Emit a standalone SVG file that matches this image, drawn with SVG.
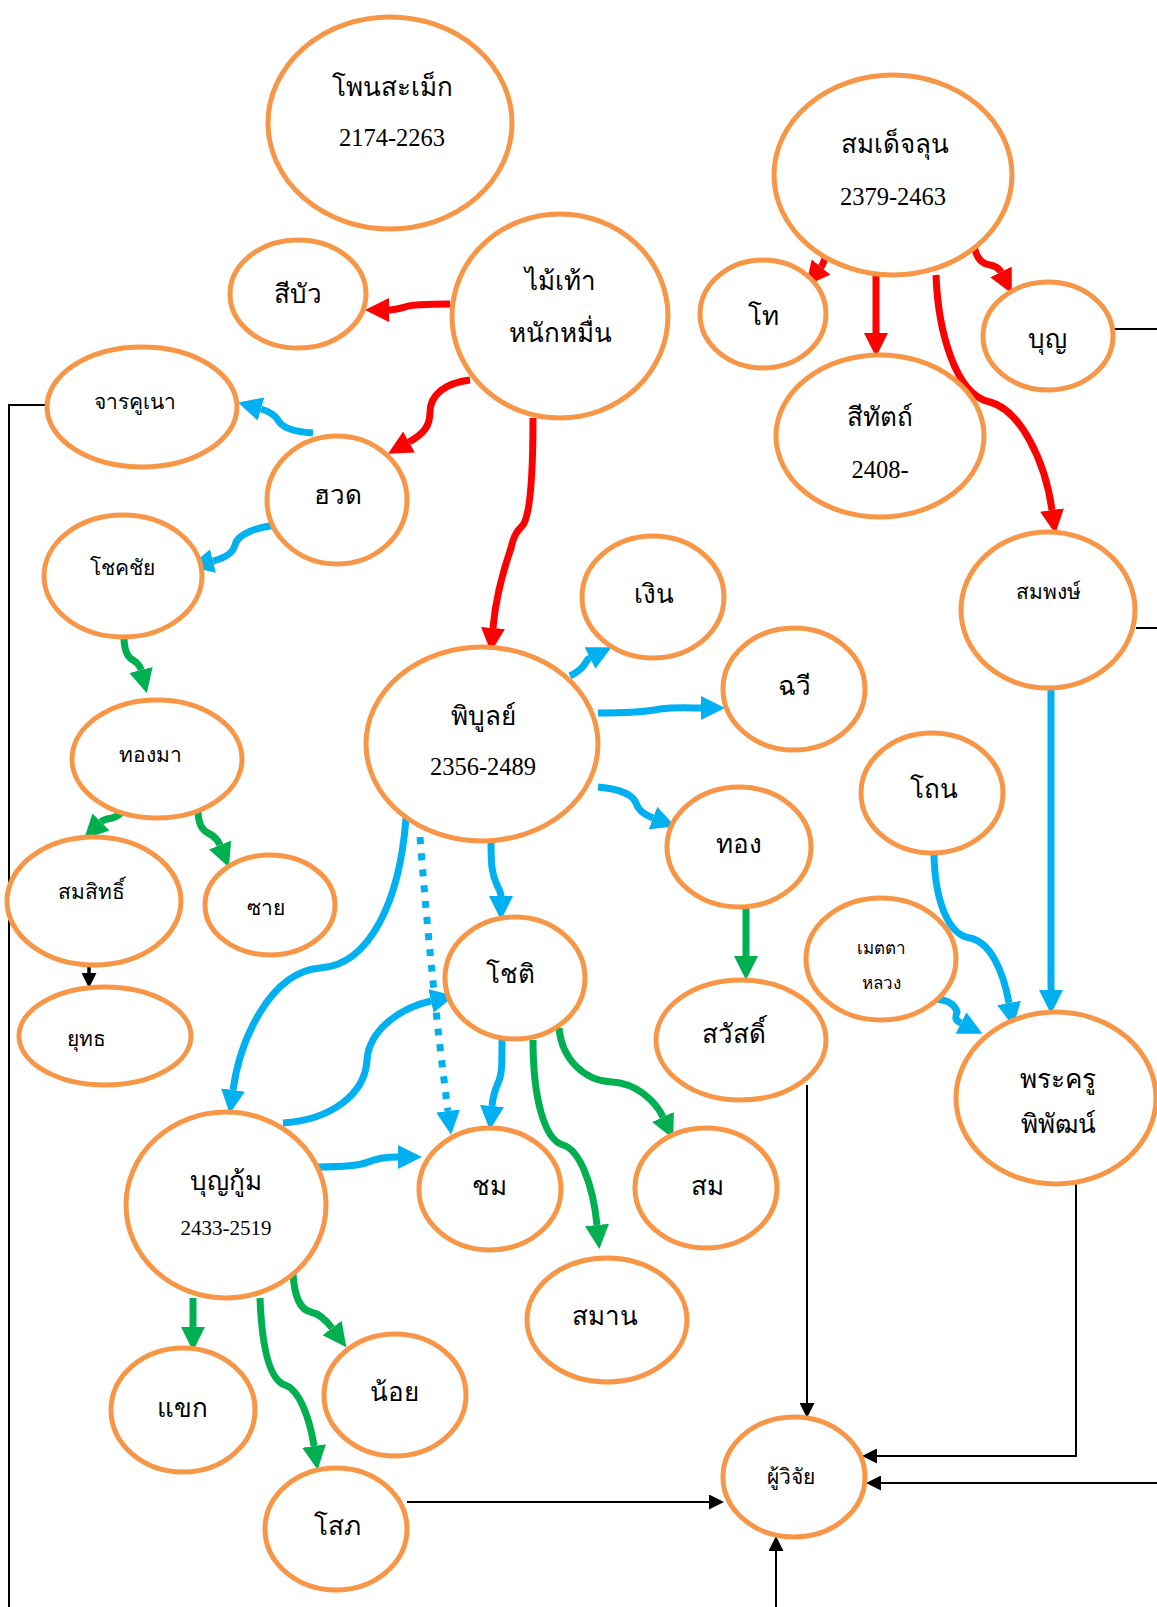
<svg xmlns="http://www.w3.org/2000/svg" width="1157" height="1607" viewBox="0 0 1157 1607">
<style>
.n{fill:#fff;stroke:#F79646;stroke-width:5}
text{font-family:"Liberation Serif","Noto Sans","DejaVu Sans",serif;fill:#000;text-anchor:middle}
.big{font-size:26px}
.mid{font-size:21px}
.sm{font-size:17px}
.num{font-size:24.5px}
.num2{font-size:21px}
.r{fill:none;stroke:#FF0000;stroke-width:7;marker-end:url(#ar)}
.b{fill:none;stroke:#00B0F0;stroke-width:7;marker-end:url(#ab)}
.g{fill:none;stroke:#00B050;stroke-width:7;marker-end:url(#ag)}
.k{fill:none;stroke:#000;stroke-width:2}
.ka{marker-end:url(#ak)}
.dot{stroke-dasharray:7 9}
</style>
<defs>
<marker id="ar" markerUnits="userSpaceOnUse" markerWidth="24" markerHeight="24" viewBox="0 0 22 22" refX="0" refY="11" orient="auto"><path d="M0,0 L22,11 L0,22 z" fill="#FF0000"/></marker>
<marker id="ab" markerUnits="userSpaceOnUse" markerWidth="24" markerHeight="24" viewBox="0 0 22 22" refX="0" refY="11" orient="auto"><path d="M0,0 L22,11 L0,22 z" fill="#00B0F0"/></marker>
<marker id="ag" markerUnits="userSpaceOnUse" markerWidth="24" markerHeight="24" viewBox="0 0 22 22" refX="0" refY="11" orient="auto"><path d="M0,0 L22,11 L0,22 z" fill="#00B050"/></marker>
<marker id="ak" markerUnits="userSpaceOnUse" markerWidth="15" markerHeight="15" viewBox="0 0 14 14" refX="0" refY="7" orient="auto"><path d="M0,0 L14,7 L0,14 z" fill="#000"/></marker>
</defs>
<rect width="1157" height="1607" fill="#fff"/>

<g id="connectors">
<path class="r" d="M450,304 C425,304 410,305 405,307 C398,309 395,310 389,310"/>
<path class="r" d="M470,380 C445,383 430,395 430,412 C430,425 425,433 409,442"/>
<path class="r" d="M533,418 C533,480 530,515 523,525 C517,531 514,535 511,548 C500,580 495,605 493,628"/>
<path class="r" d="M826,245 C826,255 825,262 821,267"/>
<path class="r" d="M876,275 L876,333"/>
<path class="r" d="M974,245 C976,258 982,264 990,265 C995,266 999,268 1001,272"/>
<path class="r" d="M936,275 C938,330 955,395 990,402 C1020,410 1045,460 1052,510"/>

<path class="b" d="M313,433 C295,432 282,428 278,420 C274,414 268,411 261,409"/>
<path class="b" d="M278,525 C255,527 237,535 235,545 C233,553 225,558 213,561"/>
<path class="b" d="M570,676 C578,672 583,668 586,662 C587,660 588,659 590,658"/>
<path class="b" d="M598,713 C625,713 645,712 660,709 C675,707 690,708 701,708"/>
<path class="b" d="M598,787 C620,789 633,795 636,803 C638,810 645,815 653,818"/>
<path class="b" d="M406,818 C400,900 370,965 320,968 C270,972 240,1040 233,1090"/>
<path class="b" d="M283,1123 C330,1120 365,1095 367,1060 C369,1030 400,1008 431,1001"/>
<path class="b dot" d="M420,837 Q432,990 448,1111"/>
<path class="b" d="M491,842 C491,865 492,875 497,885 C501,893 501,895 501,896"/>
<path class="b" d="M317,1167 C340,1167 360,1166 368,1162 C375,1159 385,1157 398,1157"/>
<path class="b" d="M502,1040 C502,1065 502,1075 498,1083 C495,1090 493,1095 492,1106"/>
<path class="b" d="M934,855 C935,900 948,935 970,938 C990,942 1003,970 1009,1003"/>
<path class="b" d="M936,999 C948,1000 955,1005 957,1012 C955,1018 955,1020 961,1023"/>
<path class="b" d="M1051,682 L1051,990"/>

<path class="g" d="M124,637 C124,650 127,657 133,660 C138,663 140,666 141,670"/>
<path class="g" d="M124,802 C124,812 120,816 112,818 C107,819 104,819 101,822"/>
<path class="g" d="M198,810 C198,822 202,830 208,833 C214,836 218,840 220,845"/>
<path class="g" d="M746,907 L746,956"/>
<path class="g" d="M533,1040 C533,1100 545,1140 563,1145 C580,1150 593,1185 597,1225"/>
<path class="g" d="M559,1028 C562,1060 585,1081 612,1082 C635,1083 655,1100 663,1117"/>
<path class="g" d="M193,1298 L193,1327"/>
<path class="g" d="M260,1298 C262,1350 270,1380 285,1385 C300,1390 310,1420 314,1446"/>
<path class="g" d="M293,1273 C294,1295 300,1310 311,1312 C320,1314 326,1320 332,1328"/>

<path class="k ka" d="M89,965 L89,973" style="stroke-width:3.5"/>
<path class="k ka" d="M807,1085 L807,1403"/>
<path class="k ka" d="M1076,1183 L1076,1456 L877,1456"/>
<path class="k ka" d="M1157,1483 L881,1483"/>
<path class="k ka" d="M407,1502 L709,1502"/>
<path class="k ka" d="M776,1607 L776,1551"/>
<path class="k" d="M46,405 L9,405 L9,1607"/>
<path class="k" d="M1113,329 L1157,329"/>
<path class="k" d="M1136,628 L1157,628"/>
</g>

<g id="n-phonsamek"><ellipse class="n" cx="390" cy="123" rx="122" ry="106"/><text class="big" x="392" y="96">โพนสะเม็ก</text><text class="num" x="392" y="146">2174-2263</text></g>
<g id="n-sibua"><ellipse class="n" cx="298" cy="294" rx="68" ry="54"/><text class="big" x="298" y="303">สีบัว</text></g>
<g id="n-maithao"><ellipse class="n" cx="560" cy="316" rx="108" ry="102"/><text class="big" x="560" y="290">ไม้เท้า</text><text class="big" x="560" y="342">หนักหมื่น</text></g>
<g id="n-somdetlun"><ellipse class="n" cx="893" cy="175" rx="119" ry="100"/><text class="big" x="895" y="153">สมเด็จลุน</text><text class="num" x="893" y="205">2379-2463</text></g>
<g id="n-tho"><ellipse class="n" cx="763" cy="314" rx="63" ry="54"/><text class="big" x="763" y="325">โท</text></g>
<g id="n-bun"><ellipse class="n" cx="1048" cy="336" rx="65" ry="54"/><text class="big" x="1047" y="348">บุญ</text></g>
<g id="n-sithat"><ellipse class="n" cx="880" cy="436" rx="104" ry="81"/><text class="big" x="880" y="426">สีทัตถ์</text><text class="num" x="880" y="478">2408-</text></g>
<g id="n-sompong"><ellipse class="n" cx="1048" cy="610" rx="87" ry="78"/><text class="mid" x="1048" y="599">สมพงษ์</text></g>
<g id="n-charakhuna"><ellipse class="n" cx="142" cy="407" rx="95" ry="60"/><text class="mid" x="135" y="409">จารคูเนา</text></g>
<g id="n-huat"><ellipse class="n" cx="337" cy="500" rx="70" ry="64"/><text class="big" x="338" y="504">ฮวด</text></g>
<g id="n-chokchai"><ellipse class="n" cx="123" cy="576" rx="79" ry="61"/><text class="mid" x="122" y="575">โชคชัย</text></g>
<g id="n-phibun"><ellipse class="n" cx="482" cy="744" rx="116" ry="97"/><text class="big" x="483" y="725">พิบูลย์</text><text class="num" x="483" y="775">2356-2489</text></g>
<g id="n-thongma"><ellipse class="n" cx="157" cy="759" rx="85" ry="59"/><text class="mid" x="150" y="762">ทองมา</text></g>
<g id="n-ngoen"><ellipse class="n" cx="653" cy="597" rx="71" ry="61"/><text class="big" x="654" y="603">เงิน</text></g>
<g id="n-chawi"><ellipse class="n" cx="794" cy="689" rx="71" ry="61"/><text class="big" x="794" y="695">ฉวี</text></g>
<g id="n-thon"><ellipse class="n" cx="932" cy="793" rx="71" ry="60"/><text class="big" x="934" y="798">โถน</text></g>
<g id="n-thong"><ellipse class="n" cx="739" cy="847" rx="72" ry="60"/><text class="big" x="739" y="853">ทอง</text></g>
<g id="n-somsit"><ellipse class="n" cx="94" cy="901" rx="87" ry="64"/><text class="mid" x="91" y="899">สมสิทธิ์</text></g>
<g id="n-sai"><ellipse class="n" cx="270" cy="905" rx="65" ry="50"/><text class="mid" x="266" y="915">ซาย</text></g>
<g id="n-yut"><ellipse class="n" cx="105" cy="1036" rx="86" ry="49"/><text class="mid" x="86" y="1046">ยุทธ</text></g>
<g id="n-chot"><ellipse class="n" cx="515" cy="978" rx="70" ry="61"/><text class="big" x="510" y="983">โชติ</text></g>
<g id="n-bunkum"><ellipse class="n" cx="226" cy="1205" rx="100" ry="93"/><text class="big" x="226" y="1190">บุญกู้ม</text><text class="num2" x="226" y="1235">2433-2519</text></g>
<g id="n-chom"><ellipse class="n" cx="490" cy="1189" rx="71" ry="61"/><text class="big" x="489" y="1195">ชม</text></g>
<g id="n-som"><ellipse class="n" cx="706" cy="1188" rx="71" ry="60"/><text class="big" x="707" y="1195">สม</text></g>
<g id="n-sawat"><ellipse class="n" cx="741" cy="1040" rx="85" ry="60"/><text class="big" x="734" y="1043">สวัสดิ์</text></g>
<g id="n-metta"><ellipse class="n" cx="881" cy="959" rx="75" ry="61"/><text class="sm" x="881" y="954">เมตตา</text><text class="sm" x="881" y="989">หลวง</text></g>
<g id="n-phrakhru"><ellipse class="n" cx="1056" cy="1098" rx="100" ry="86"/><text class="big" x="1058" y="1088">พระครู</text><text class="big" x="1058" y="1133">พิพัฒน์</text></g>
<g id="n-saman"><ellipse class="n" cx="607" cy="1320" rx="80" ry="62"/><text class="big" x="605" y="1325">สมาน</text></g>
<g id="n-khaek"><ellipse class="n" cx="183" cy="1410" rx="72" ry="62"/><text class="big" x="182" y="1417">แขก</text></g>
<g id="n-noi"><ellipse class="n" cx="395" cy="1395" rx="71" ry="61"/><text class="big" x="394" y="1401">น้อย</text></g>
<g id="n-sop"><ellipse class="n" cx="336" cy="1529" rx="71" ry="61"/><text class="big" x="337" y="1535">โสภ</text></g>
<g id="n-researcher"><ellipse class="n" cx="794" cy="1477" rx="71" ry="60"/><text class="mid" x="791" y="1484">ผู้วิจัย</text></g>
</svg>
